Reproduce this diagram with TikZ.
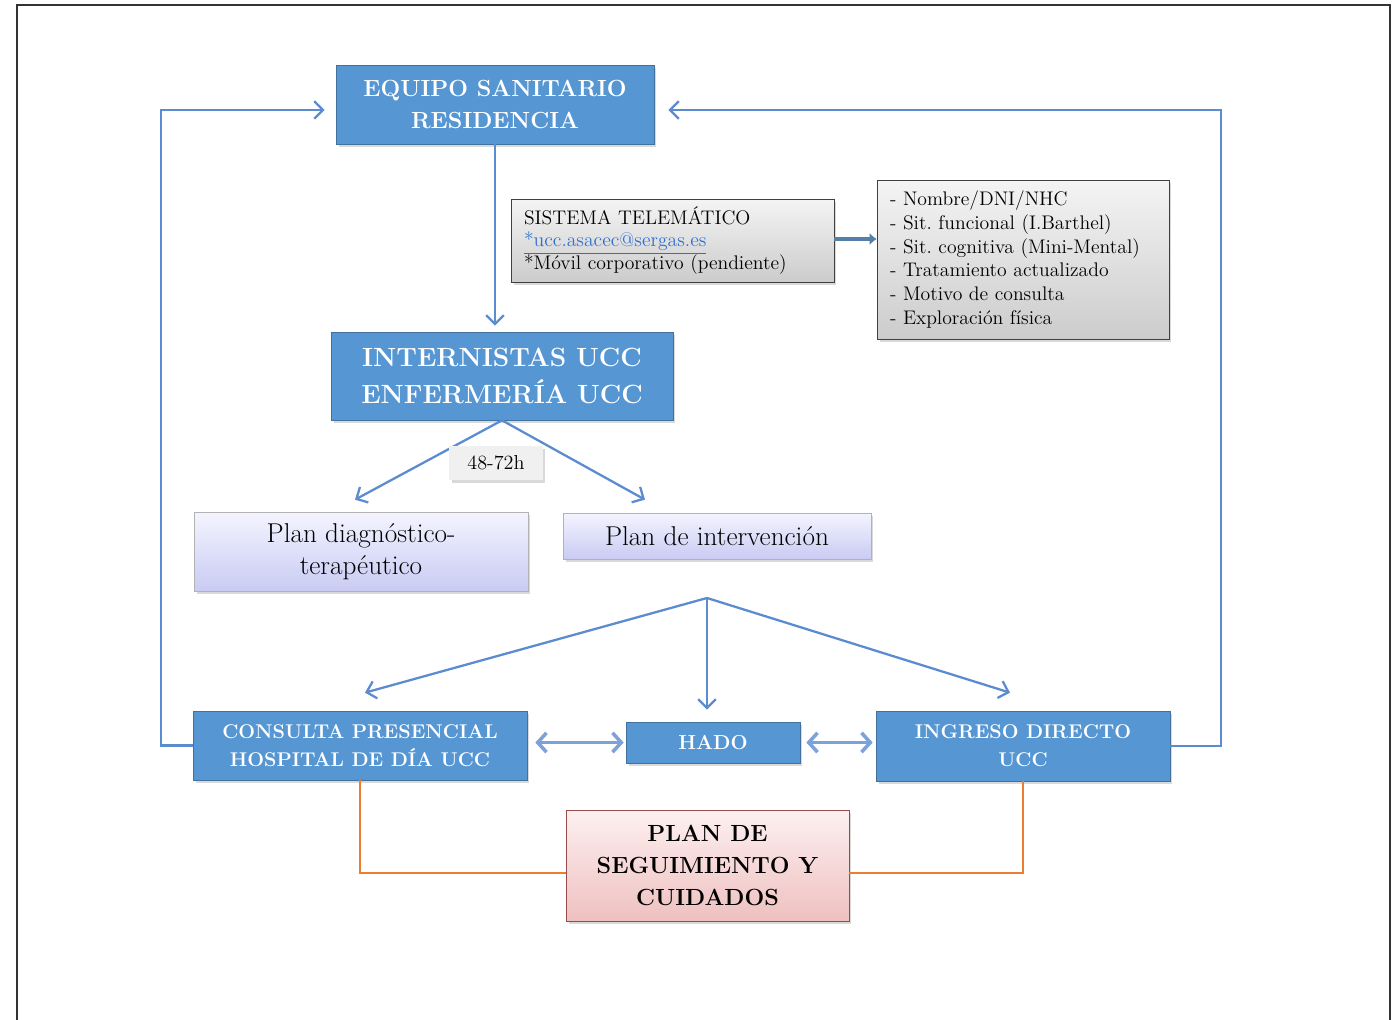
\documentclass[tikz,border=0pt]{standalone}
\usepackage{fontspec}
\usetikzlibrary{arrows.meta,shadows}
\frenchspacing

\definecolor{boxblue}{HTML}{5596D3}
\definecolor{boxedge}{HTML}{41719C}
\definecolor{lineblue}{HTML}{5B8BD0}
\definecolor{linkblue}{HTML}{2F6FD0}
\definecolor{graytop}{HTML}{F4F4F4}
\definecolor{graybot}{HTML}{CCCCCC}
\definecolor{lavtop}{HTML}{F4F4FF}
\definecolor{lavbot}{HTML}{C9CBF3}
\definecolor{pinktop}{HTML}{FDF0F0}
\definecolor{pinkbot}{HTML}{EFC0C0}
\definecolor{followorange}{HTML}{ED7D31}

\begin{document}
\begin{tikzpicture}[
        x=0.02cm, y=-0.02cm,
        softshadow/.style={drop shadow={opacity=0.3, shadow xshift=0.05cm, shadow yshift=-0.06cm}},
        bluebox/.style={rectangle, draw=boxedge, fill=boxblue, text=white, align=center, inner sep=1pt, softshadow},
        graybox/.style={rectangle, draw=black!75, top color=graytop, bottom color=graybot, align=left, inner xsep=0.26cm, inner ysep=1pt, softshadow},
        lavbox/.style={rectangle, draw=black!30, top color=lavtop, bottom color=lavbot, align=center, inner sep=1pt, softshadow,
            font=\fontsize{15.5}{18}\selectfont},
        pinkbox/.style={rectangle, draw=red!40!black!70, top color=pinktop, bottom color=pinkbot, align=center, inner sep=1pt, softshadow,
            font=\fontsize{13.3}{18.4}\selectfont\bfseries},
        tagbox/.style={rectangle, fill=black!6, inner sep=1pt, softshadow, font=\fontsize{11.5}{13}\selectfont},
        arrow/.style={-{Straight Barb[length=5pt,width=10pt]}, draw=lineblue, line width=1.3pt},
        twoway/.style={{Straight Barb[length=5pt,width=11pt]}-{Straight Barb[length=5pt,width=11pt]}, draw=lineblue!80, line width=2pt},
        fatarrow/.style={-{Latex[length=4pt,width=7pt]}, draw=boxedge!90, line width=2.6pt},
        follow/.style={draw=followorange, line width=1pt},
        frame/.style={draw=black!80, line width=1.2pt}
    ]
        \useasboundingbox (0,0) rectangle (1397,1020);
        \draw[frame] (17,1030) -- (17,5) -- (1390,5) -- (1390,1030);

        % Top of the circuit
        \node[bluebox, minimum width=6.36cm, minimum height=1.58cm, font=\fontsize{13.3}{18}\selectfont\bfseries]
            (equipo) at (495,104.5) {EQUIPO SANITARIO\\RESIDENCIA};
        \node[graybox, minimum height=1.66cm, text width=5.94cm, font=\fontsize{11.2}{13}\selectfont]
            (sistema) at (672.5,240.5) {SISTEMA TELEMÁTICO\\
            \textcolor{linkblue}{\underline{*ucc.asacec@sergas.es}}\\
            {*}Móvil corporativo (pendiente)};
        \node[graybox, minimum height=3.18cm, text width=5.32cm, font=\fontsize{11.2}{13.6}\selectfont]
            (lista) at (1023,259.5) {- Nombre/DNI/NHC\\
            - Sit. funcional (I.Barthel)\\
            - Sit. cognitiva (Mini-Mental)\\
            - Tratamiento actualizado\\
            - Motivo de consulta\\
            - Exploración física};
        \node[bluebox, minimum width=6.84cm, minimum height=1.76cm, font=\fontsize{15}{21.5}\selectfont\bfseries]
            (internistas) at (502,376) {INTERNISTAS UCC\\ENFERMERÍA UCC};

        % Plans after the first assessment
        \node[lavbox, minimum width=6.68cm, minimum height=1.58cm] (diag) at (361,551.5) {Plan diagnóstico-\\terapéutico};
        \node[lavbox, minimum width=6.16cm, minimum height=0.92cm] (intervencion) at (717,536) {Plan de intervención};
        \coordinate (split) at (707,598);

        % Care settings
        \node[bluebox, minimum width=6.68cm, minimum height=1.38cm, font=\fontsize{11.3}{15.9}\selectfont\bfseries]
            (consulta) at (360,745.5) {CONSULTA PRESENCIAL\\HOSPITAL DE DÍA UCC};
        \node[bluebox, minimum width=3.48cm, minimum height=0.82cm, font=\fontsize{11.5}{14}\selectfont\bfseries]
            (hado) at (713,742.5) {HADO};
        \node[bluebox, minimum width=5.88cm, minimum height=1.4cm, font=\fontsize{11.3}{15.9}\selectfont\bfseries]
            (ingreso) at (1023,746) {INGRESO DIRECTO\\UCC};
        \node[pinkbox, minimum width=5.66cm, minimum height=2.22cm]
            (seguimiento) at (707.5,865.5) {PLAN DE\\SEGUIMIENTO Y\\CUIDADOS};

        % Main flow
        \draw[arrow, shorten >=0.12cm] (equipo.south) -- (equipo.south |- internistas.north);
        \draw[fatarrow] (sistema.east |- 0,239) -- (lista.west |- 0,239);
        \draw[arrow] (internistas.south) -- ([shift={(-6,-12)}]diag.north);
        \draw[arrow] (internistas.south) -- ([shift={(-72,-13)}]intervencion.north);
        \node[tagbox, minimum width=1.88cm, minimum height=0.68cm] (plazo) at (496,463) {48-72h};
        \foreach \target/\dx/\dy in {consulta/5/-18, hado/-6/-12, ingreso/-13/-18} {
            \draw[arrow] (split) -- ([shift={(\dx,\dy)}]\target.north);
        }

        % Links between settings
        \draw[twoway, shorten <=0.16cm, shorten >=0.04cm] (consulta.east |- hado.west) -- (hado.west);
        \draw[twoway, shorten <=0.12cm, shorten >=0.06cm] (hado.east) -- (hado.east -| ingreso.west);

        % Back to the residence
        \draw[arrow, shorten >=0.22cm] (consulta.west) -- ++(-32,0) |- ([shift={(0,5.5)}]equipo.west);
        \draw[arrow, shorten >=0.28cm] (ingreso.east) -- ++(51,0) |- ([shift={(0,5.5)}]equipo.east);

        % Follow-up
        \draw[follow] (consulta.south) |- ([shift={(0,7.5)}]seguimiento.west);
        \draw[follow] (ingreso.south) |- ([shift={(0,7.5)}]seguimiento.east);
    \end{tikzpicture}
\end{document}
